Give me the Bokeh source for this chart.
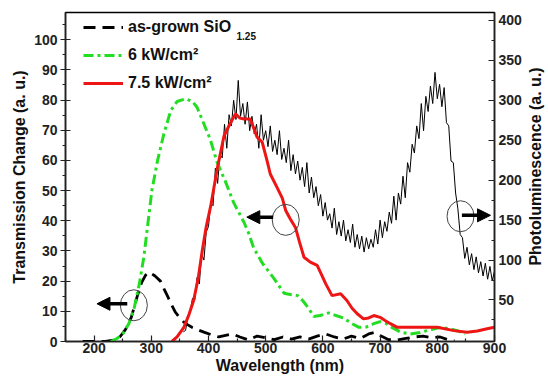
from math import pi
from bokeh.plotting import figure
from bokeh.layouts import row
from bokeh.core.properties import value
from bokeh.models import (Range1d, LinearAxis, FixedTicker, Legend, LegendItem,
                          Label, Arrow, NormalHead)
from bokeh.embed import file_html
from bokeh.resources import INLINE

FONT = "Liberation Sans"

# ---- data ----
black_nm = [180, 200, 220, 235, 245, 255, 265, 275, 283, 290,
            296, 306, 316, 322, 328, 335, 342, 350, 357, 364,
            371, 382, 392, 405, 418, 430, 442, 455, 470, 485,
            500, 515, 530, 545, 560, 575, 590, 605, 620, 635,
            650, 665, 680, 690, 700, 715, 730, 745, 760, 775,
            790, 805, 820, 830]
black_v = [0, 0, 0, 0.5, 1.5, 4, 8, 14.7, 19.5, 22,
           23, 21.8, 20, 17.5, 15.2, 12.3, 9.7, 7.8, 6.4, 5.5,
           4.7, 3.8, 3.1, 2.2, 1.5, 2, 2.5, 1.5, 0.5, 1.8,
           1.2, 0.6, 1.5, 0.8, 1.5, 0.8, 1.8, 2.5, 1.5, 0.8,
           1.8, 1, 2.5, 3, 2, 0.6, 0.5, 1, 1.5, 1.8,
           1.2, 1.5, 0.5, 0.3]

green_nm = [229, 240, 250, 261, 270, 279, 287, 294, 301, 311,
            322, 334, 345, 360, 372, 380, 390, 403, 415, 430,
            444, 462, 470, 479, 494, 514, 532, 545, 556, 565,
            575, 584, 595, 610, 623, 636, 650, 663, 676, 689,
            700, 710, 722, 736, 753, 770, 790, 806, 823, 836, 849]
green_v = [0, 1, 2.5, 6, 11, 19, 28, 39, 50, 60,
           68.8, 76.5, 79.5, 80.4, 79.5, 77.6, 73, 67, 59.4, 52.8,
           46, 39.5, 36, 31, 26, 21, 16, 15.5, 15.2, 13.5,
           11, 8.3, 8.6, 9.5, 8.6, 7.8, 6, 4.7, 4.8, 5.9,
           6.6, 6.0, 4.5, 3.1, 2.5, 3, 4, 4.7, 4.2, 3.5, 2.5]

red_nm = [336, 345, 357, 366, 374, 382, 389, 396, 404, 415,
          427, 436, 447, 455, 462, 473, 485, 494, 503, 508,
          520, 529, 535, 543, 552, 559, 567, 578, 590, 598,
          605, 616, 631, 642, 651, 660, 671, 680, 689, 700,
          710, 718, 730, 770, 800, 829, 852, 870, 887, 900]
red_v = [0, 1.5, 4.7, 9, 13.6, 21, 30, 38, 45, 57,
         68, 71.5, 75.4, 74, 73.7, 73.7, 67.7, 66, 59.4, 55.5,
         51, 47.5, 43.4, 40.6, 37.8, 33, 27.9, 26.3, 25.2, 22,
         19.1, 15.2, 15.8, 13.6, 11, 9.2, 7.5, 7.8, 8.6, 8,
         6.8, 5.9, 4.7, 4.7, 4.7, 3.6, 3.1, 3.5, 4.2, 4.7]

# photoluminescence (right axis), sampled every 4 nm from 356 to 900
pl_nm = list(range(356, 901, 4))
pl_v = [10, 12, 30, 36, 52, 50, 78, 70, 108, 100,
        135, 142, 172, 168, 215, 196, 232, 228, 270, 240,
        282, 268, 300, 276, 325, 280, 296, 270, 298, 262,
        280, 258, 270, 240, 282, 250, 262, 242, 268, 236,
        250, 232, 262, 226, 240, 222, 250, 212, 232, 208,
        224, 200, 216, 192, 222, 184, 204, 178, 192, 168,
        182, 155, 172, 150, 158, 140, 165, 132, 148, 130,
        150, 124, 138, 122, 145, 116, 132, 114, 130, 110,
        128, 114, 126, 116, 138, 120, 150, 128, 148, 136,
        160, 146, 180, 150, 184, 170, 205, 178, 222, 210,
        245, 234, 268, 252, 296, 262, 305, 286, 318, 296,
        335, 302, 320, 292, 316, 272, 268, 224, 222, 184,
        164, 132, 128, 102, 116, 94, 108, 88, 104, 84,
        98, 80, 96, 76, 92, 74, 86]

x_ticks = [200, 300, 400, 500, 600, 700, 800, 900]
x_minor = [150, 250, 350, 450, 550, 650, 750, 850]
left_ticks = [0, 10, 20, 30, 40, 50, 60, 70, 80, 90, 100]
left_minor = [5, 15, 25, 35, 45, 55, 65, 75, 85, 95, 105]
right_ticks = [50, 100, 150, 200, 250, 300, 350, 400]
right_minor = [25, 75, 125, 175, 225, 275, 325, 375]

labels = ["as-grown SiO", "6 kW/cm\u00b2", "7.5 kW/cm\u00b2"]
subscript = "1.25"
right_title = ["Photoluminescence (a. u.)"]

# annotation circles / arrows (nm, left-axis value)
circ_x = [269.5, 535, 840.6]
circ_y = [12, 40.3, 41.5]
arrows = [(258, 205, 12.5), (513, 467, 41.2), (843, 893, 41.8)]

# ---- main figure ----
p = figure(frame_width=429, frame_height=329,
           min_border_left=65, min_border_right=34, min_border_top=12, min_border_bottom=36,
           x_range=Range1d(150, 900), y_range=Range1d(0, 109),
           output_backend="svg", toolbar_location=None)
p.extra_y_ranges = {"pl": Range1d(-2, 410)}
p.xgrid.visible = False
p.ygrid.visible = False
p.outline_line_color = "black"
p.outline_line_width = 1.5
p.background_fill_color = "white"
p.border_fill_color = "white"

def style_axis(ax, size="14px"):
    ax.major_label_text_font = FONT
    ax.major_label_text_font_style = "bold"
    ax.major_label_text_font_size = size
    ax.major_label_text_color = "#222222"
    ax.axis_label_text_font = FONT
    ax.axis_label_text_font_style = "bold"
    ax.axis_label_text_font_size = "16px"
    ax.axis_label_text_color = "#111111"
    ax.axis_line_width = 1.5
    ax.axis_line_color = "#222222"
    ax.major_tick_line_color = "#222222"
    ax.minor_tick_line_color = "#222222"
    ax.major_tick_line_width = 1.2
    ax.minor_tick_line_width = 1.2

xa = p.xaxis[0]
style_axis(xa)
xa.ticker = FixedTicker(ticks=x_ticks, minor_ticks=x_minor)
xa.axis_label = "Wavelength (nm)"
xa.major_tick_in = 6
xa.major_tick_out = 0
xa.minor_tick_in = 3
xa.minor_tick_out = 0
xa.major_label_standoff = 1
xa.axis_label_standoff = 1

ya = p.yaxis[0]
style_axis(ya)
ya.ticker = FixedTicker(ticks=left_ticks, minor_ticks=left_minor)
ya.axis_label = "Transmission Change (a. u.)"
ya.major_tick_in = 5
ya.major_tick_out = 5
ya.minor_tick_in = 0
ya.minor_tick_out = 3
ya.major_label_standoff = 3
ya.axis_label_standoff = 3

ra = LinearAxis(y_range_name="pl")
style_axis(ra)
ra.ticker = FixedTicker(ticks=right_ticks, minor_ticks=right_minor)
ra.major_tick_in = 6
ra.major_tick_out = 0
ra.minor_tick_in = 3
ra.minor_tick_out = 0
ra.major_label_standoff = 4
p.add_layout(ra, "right")

# ---- curves ----
p.line(pl_nm, pl_v, y_range_name="pl", line_color="black", line_width=1)
r_black = p.line(black_nm, black_v, line_color="black", line_width=2.8, line_dash="12 7")
r_green = p.line(green_nm, green_v, line_color="#22dd22", line_width=3, line_dash="10 4 3 4")
r_red = p.line(red_nm, red_v, line_color="#ee1515", line_width=3)

# ---- circles and arrows ----
p.ellipse(x=circ_x, y=circ_y, width=27, height=31, width_units="screen",
          height_units="screen", fill_alpha=0, line_color="#444444", line_width=1)
for xs, xe, yy in arrows:
    p.add_layout(Arrow(end=NormalHead(size=13, fill_color="black", line_color="black"),
                       x_start=xs, y_start=yy, x_end=xe, y_end=yy,
                       line_color="black", line_width=3.5))

# ---- legend ----
legend = Legend(items=[LegendItem(label=labels[0], renderers=[r_black]),
                       LegendItem(label=labels[1], renderers=[r_green]),
                       LegendItem(label=labels[2], renderers=[r_red])],
                location=(18, 248), glyph_width=40, glyph_height=20, label_height=20,
                spacing=8, padding=0, margin=0, label_standoff=5,
                border_line_alpha=0, background_fill_alpha=0,
                label_text_font=FONT, label_text_font_style="bold",
                label_text_font_size="16px", label_text_color="#111111")
p.add_layout(legend)

p.add_layout(Label(x=449, y=101.1, text=subscript, text_font=FONT,
                   text_font_style="bold", text_font_size="10px",
                   text_baseline="middle", text_color="#111111"))

# ---- narrow strip holding the right-axis title (reads bottom to top) ----
q = figure(width=20, height=377, x_range=Range1d(0, 1), y_range=Range1d(0, 1),
           min_border=0, output_backend="svg", toolbar_location=None)
q.axis.visible = False
q.grid.visible = False
q.outline_line_color = None
q.background_fill_color = "white"
q.border_fill_color = "white"
q.text(x=[0.35], y=[0.532], text=right_title, angle=pi / 2,
       text_align="center", text_baseline="middle",
       text_font=value(FONT), text_font_style="bold", text_font_size="16px",
       text_color="#111111")

layout = row(p, q, spacing=0)
open("out.html", "w").write(file_html(layout, INLINE))
